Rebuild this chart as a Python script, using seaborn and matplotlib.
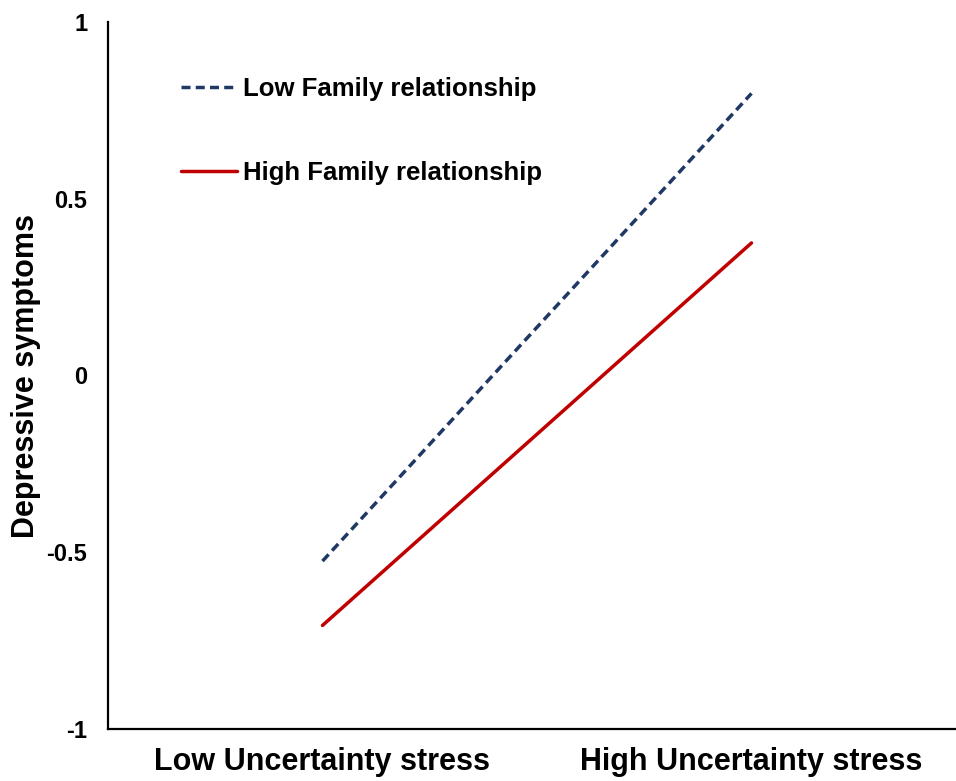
import matplotlib
matplotlib.use("Agg")
import matplotlib.pyplot as plt
import numpy as np
import pandas as pd
import seaborn as sns

# ---- data ----
stress_levels = ["Low Uncertainty stress", "High Uncertainty stress"]
stress_pos = [0.5, 1.5]
groups = ["Low Family relationship", "High Family relationship"]
low_family = [-0.525, 0.798]
high_family = [-0.707, 0.375]
y_ticks = [-1, -0.5, 0, 0.5, 1]
y_tick_labels = ["-1", "-0.5", "0", "0.5", "1"]
y_label = "Depressive symptoms"

df = pd.DataFrame({
    "x": stress_pos + stress_pos,
    "y": low_family + high_family,
    "group": [groups[0]] * 2 + [groups[1]] * 2,
})

sns.set_style("white")
plt.rcParams["font.family"] = ["Liberation Sans", "DejaVu Sans"]
plt.rcParams["font.weight"] = "bold"
for k in ["text.color", "axes.labelcolor", "xtick.color", "ytick.color"]:
    plt.rcParams[k] = "black"

fig = plt.figure(figsize=(9.56, 7.81), dpi=100)
ax = fig.add_axes([108 / 956, 1 - 729 / 781, 858 / 956, 707 / 781])

palette = {groups[0]: "#1F3864", groups[1]: "#C00000"}
dashes = {groups[0]: (2.6, 1.5), groups[1]: ""}
sns.lineplot(data=df, x="x", y="y", hue="group", style="group",
             hue_order=groups, style_order=groups, palette=palette,
             dashes=dashes, linewidth=2.5, ax=ax)

ax.set_xlim(0, 2)
ax.set_ylim(-1, 1)

# x axis: one unlabeled tick in the middle, category labels without tick marks
ax.set_xticks([1])
ax.set_xticklabels([""])
ax.set_xticks(stress_pos, minor=True)
ax.set_xticklabels(stress_levels, minor=True, fontsize=22, fontweight="bold")
ax.tick_params(axis="x", which="minor", length=0, pad=13)
ax.tick_params(axis="x", which="major", direction="in", length=7, width=1.5)

ax.set_yticks(y_ticks)
ax.set_yticklabels(y_tick_labels, fontsize=17, fontweight="bold")
ax.tick_params(axis="y", direction="in", length=7, width=1.5, pad=15)

ax.set_xlabel("")
ax.set_ylabel(y_label, fontsize=22, fontweight="bold", labelpad=4)

sns.despine(ax=ax)
for s in ["left", "bottom"]:
    ax.spines[s].set_linewidth(1.6)
    ax.spines[s].set_color("black")

handles, labels = ax.get_legend_handles_labels()
ax.legend(handles, labels, loc="upper left", bbox_to_anchor=(0.070, 0.940),
          frameon=False, borderpad=0, handlelength=2.2, handletextpad=0.2,
          labelspacing=2.33, prop={"size": 18.5, "weight": "bold"})

fig.savefig("out.png", dpi=100)
